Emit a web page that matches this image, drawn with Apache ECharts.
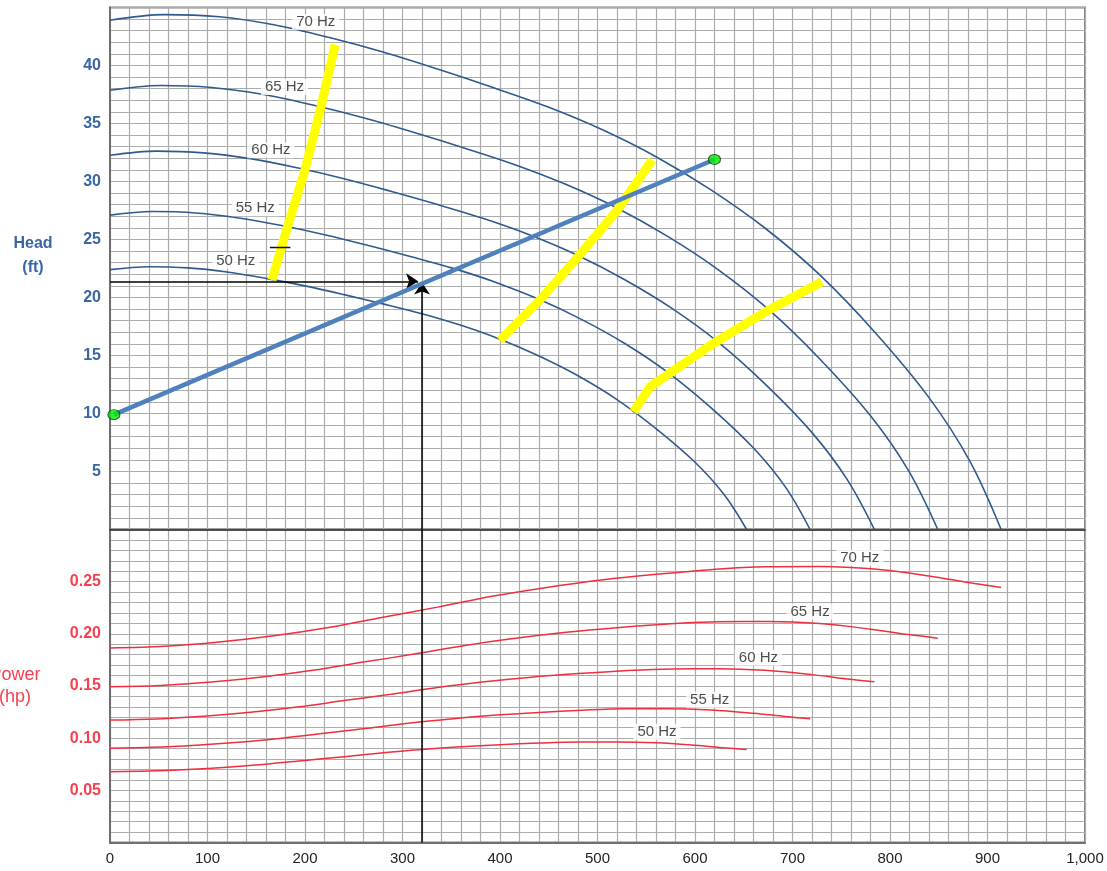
<!DOCTYPE html>
<html>
<head>
<meta charset="utf-8">
<title>Pump curves at variable speed</title>
<script src="https://cdn.jsdelivr.net/npm/echarts@6.0.0/dist/echarts.min.js"></script>
<style>
  html, body { margin: 0; padding: 0; background: #ffffff; }
  #chart { width: 1107px; height: 871px; }
</style>
</head>
<body>
<div id="chart"></div>
<script>
// ---- Flow (x) tick labels ----
const flowTicks = [0, 100, 200, 300, 400, 500, 600, 700, 800, 900, 1000];
const flowTickLabels = ['0', '100', '200', '300', '400', '500', '600', '700', '800', '900', '1,000'];

const freqLabels = ['50 Hz', '55 Hz', '60 Hz', '65 Hz', '70 Hz'];

// ---- Head curves (ft) vs flow ----
const flow50 = [0, 40, 80, 120, 160, 200, 240, 280, 320, 360, 400, 440, 480, 520, 560, 600, 630, 653];
const head50 = [22.4, 22.65, 22.55, 22.2, 21.65, 21.0, 20.25, 19.45, 18.6, 17.6, 16.4, 14.95, 13.25, 11.2, 8.7, 5.8, 3.0, 0];

const flow55 = [0, 44, 88, 132, 176, 220, 264, 308, 352, 396, 440, 484, 528, 572, 616, 660, 693, 718];
const head55 = [27.1, 27.41, 27.29, 26.86, 26.2, 25.41, 24.5, 23.53, 22.51, 21.3, 19.84, 18.09, 16.03, 13.55, 10.53, 7.02, 3.63, 0];

const flow60 = [0, 48, 96, 144, 192, 240, 288, 336, 384, 432, 480, 528, 576, 624, 672, 720, 756, 784];
const head60 = [32.26, 32.62, 32.47, 31.97, 31.18, 30.24, 29.16, 28.01, 26.78, 25.34, 23.62, 21.53, 19.08, 16.13, 12.53, 8.35, 4.32, 0];

const flow65 = [0, 52, 104, 156, 208, 260, 312, 364, 416, 468, 520, 572, 624, 676, 728, 780, 819, 849];
const head65 = [37.86, 38.28, 38.11, 37.52, 36.59, 35.49, 34.22, 32.87, 31.43, 29.74, 27.72, 25.27, 22.39, 18.93, 14.7, 9.8, 5.07, 0];

const flow70 = [0, 56, 112, 168, 224, 280, 336, 392, 448, 504, 560, 616, 672, 728, 784, 840, 882, 914];
const head70 = [43.9, 44.39, 44.2, 43.51, 42.43, 41.16, 39.69, 38.12, 36.46, 34.5, 32.14, 29.3, 25.97, 21.95, 17.05, 11.37, 5.88, 0];

// ---- Shaft power (hp) vs flow ----
const power50 = [0.0679, 0.0685, 0.0700, 0.0722, 0.0751, 0.0787, 0.0822, 0.0860, 0.0891, 0.0917, 0.0937, 0.0953, 0.0963, 0.0964, 0.0955, 0.0931, 0.0907, 0.0891];
const power55 = [0.0904, 0.0912, 0.0932, 0.0961, 0.1000, 0.1047, 0.1094, 0.1145, 0.1186, 0.1221, 0.1247, 0.1268, 0.1282, 0.1283, 0.1271, 0.1239, 0.1207, 0.1186];
const power60 = [0.1173, 0.1184, 0.1210, 0.1248, 0.1298, 0.1360, 0.1420, 0.1486, 0.1540, 0.1585, 0.1619, 0.1647, 0.1664, 0.1666, 0.1650, 0.1609, 0.1567, 0.1540];
const power65 = [0.1492, 0.1505, 0.1538, 0.1586, 0.1650, 0.1729, 0.1806, 0.1889, 0.1958, 0.2015, 0.2059, 0.2094, 0.2116, 0.2118, 0.2098, 0.2045, 0.1993, 0.1958];
const power70 = [0.1864, 0.1880, 0.1921, 0.1981, 0.2061, 0.2160, 0.2256, 0.2360, 0.2445, 0.2516, 0.2571, 0.2615, 0.2642, 0.2645, 0.2621, 0.2555, 0.2489, 0.2445];

// ---- System curve (straight line between its two end points) ----
const systemFlow = [4, 620];
const systemHead = [9.9, 31.9];

// ---- Operating point read-off ----
const opFlow = 320;
const opHead = 21.4;

// ---- Constant-efficiency traces across the speed family ----
const eff1Flow = [166, 181, 200, 216, 231];
const eff1Head = [21.5, 25.8, 31.0, 36.3, 41.8];
const eff2Flow = [400, 440, 480, 520, 556];
const eff2Head = [16.3, 19.7, 23.5, 27.5, 31.85];
const eff3Flow = [537, 554, 571, 619, 673, 730];
const eff3Head = [10.15, 12.3, 13.3, 16.05, 18.8, 21.35];

// small tick mark on the first efficiency trace
const markFlow = [164, 185];
const markHead = [24.3, 24.3];

// ---- Curve label anchors (flow, value) ----
const headLabelFlow = [129, 149, 165, 179, 211];
const headLabelHead = [23.15, 27.7, 32.7, 38.15, 43.75];
const powerLabelFlow = [561, 615, 665, 718, 769];
const powerLabelPower = [0.1061, 0.1368, 0.1771, 0.2212, 0.2727];

// ----------------------------------------------------------------
const FONT = '"Liberation Sans", Arial, sans-serif';
const HEAD_BLUE = '#2f5a8e';
const HEAD_TEXT = '#3a67a4';
const POWER_RED = '#ee2f40';
const POWER_TEXT = '#f4404f';
const gridLine = { color: '#ababab', width: 1.2 };

const zip = (xs, ys) => xs.map((x, i) => [x, ys[i]]);

const headSets = [[flow50, head50], [flow55, head55], [flow60, head60], [flow65, head65], [flow70, head70]];
const powerSets = [[flow50, power50], [flow55, power55], [flow60, power60], [flow65, power65], [flow70, power70]];

const series = [];

headSets.forEach((s, i) => {
  series.push({
    name: 'Head ' + freqLabels[i], type: 'line', xAxisIndex: 0, yAxisIndex: 0,
    data: zip(s[0], s[1]), smooth: 0.35, showSymbol: false, silent: true, z: 2,
    lineStyle: { color: HEAD_BLUE, width: 1.6 }
  });
});

powerSets.forEach((s, i) => {
  series.push({
    name: 'Power ' + freqLabels[i], type: 'line', xAxisIndex: 1, yAxisIndex: 1,
    data: zip(s[0], s[1]), smooth: 0.35, showSymbol: false, silent: true, z: 2,
    lineStyle: { color: POWER_RED, width: 1.5 }
  });
});

[[eff1Flow, eff1Head], [eff2Flow, eff2Head], [eff3Flow, eff3Head]].forEach((s, i) => {
  series.push({
    name: 'Efficiency trace ' + (i + 1), type: 'line', xAxisIndex: 0, yAxisIndex: 0,
    data: zip(s[0], s[1]), showSymbol: false, silent: true, z: 3,
    lineStyle: { color: '#ffff00', width: 9, cap: 'butt', join: 'miter' }
  });
});

series.push({
  name: 'Tick', type: 'line', xAxisIndex: 0, yAxisIndex: 0,
  data: zip(markFlow, markHead), showSymbol: false, silent: true, z: 4,
  lineStyle: { color: '#111', width: 1.5 }
});

series.push({
  name: 'System curve', type: 'line', xAxisIndex: 0, yAxisIndex: 0,
  data: zip(systemFlow, systemHead), showSymbol: false, silent: true, z: 5,
  lineStyle: { color: '#4f81bd', width: 4.5 }
});

series.push({
  name: 'System end points', type: 'scatter', xAxisIndex: 0, yAxisIndex: 0,
  data: zip(systemFlow, systemHead), symbol: 'circle', symbolSize: [12, 10], silent: true, z: 7,
  itemStyle: { color: '#00ee00', borderColor: '#123512', borderWidth: 1 }
});

const arrowLine = { type: 'solid', color: '#000', width: 1.5 };

// arrows: across from the head axis and up from the flow axis to the operating point
series.push({
  name: 'Operating point (head)', type: 'line', xAxisIndex: 0, yAxisIndex: 0,
  data: [], silent: true, z: 6,
  markLine: {
    silent: true, animation: false, symbol: ['none', 'arrow'], symbolSize: 12,
    label: { show: false }, lineStyle: arrowLine,
    itemStyle: { color: '#000' },
    emphasis: { disabled: true },
    data: [
      [{ coord: [0, opHead] }, { coord: [opFlow - 4, opHead] }],
      [{ coord: [opFlow, 0] }, { coord: [opFlow, opHead - 0.1] }]
    ]
  }
});

series.push({
  name: 'Operating point (power)', type: 'line', xAxisIndex: 1, yAxisIndex: 1,
  data: [], silent: true, z: 6,
  markLine: {
    silent: true, animation: false, symbol: ['none', 'none'],
    label: { show: false }, lineStyle: arrowLine,
    emphasis: { disabled: true },
    data: [[{ coord: [opFlow, 0] }, { coord: [opFlow, 0.30] }]]
  }
});

const curveLabel = {
  show: true, position: 'inside', formatter: '{b}', color: '#222222',
  fontSize: 15, fontFamily: FONT, backgroundColor: '#ffffff', padding: [1, 4, 0, 4]
};

series.push({
  name: 'Head labels', type: 'scatter', xAxisIndex: 0, yAxisIndex: 0, symbolSize: 0, silent: true, z: 8,
  data: headLabelFlow.map((x, i) => ({ name: freqLabels[i], value: [x, headLabelHead[i]] })),
  label: curveLabel
});

series.push({
  name: 'Power labels', type: 'scatter', xAxisIndex: 1, yAxisIndex: 1, symbolSize: 0, silent: true, z: 8,
  data: powerLabelFlow.map((x, i) => ({ name: freqLabels[i], value: [x, powerLabelPower[i]] })),
  label: curveLabel
});

const flowLabel = v => {
  const k = flowTicks.indexOf(Math.round(v));
  return k >= 0 ? flowTickLabels[k] : '';
};

const option = {
  animation: false,
  backgroundColor: '#ffffff',
  textStyle: { fontFamily: FONT },
  grid: [
    { left: 110, right: 22, top: 7.5, height: 522, show: true, borderColor: '#808080', borderWidth: 2, backgroundColor: '#ffffff' },
    { left: 110, right: 22, top: 529.5, height: 313, show: true, borderColor: '#808080', borderWidth: 2, backgroundColor: '#ffffff' }
  ],
  xAxis: [
    {
      gridIndex: 0, type: 'value', min: 0, max: 1000, interval: 100,
      axisLabel: { show: false }, axisTick: { show: false },
      axisLine: { show: true, onZero: false, lineStyle: { color: '#2a2a2a', width: 1.5 } },
      splitLine: { show: true, lineStyle: gridLine },
      minorTick: { show: false, splitNumber: 5 },
      minorSplitLine: { show: true, lineStyle: gridLine }
    },
    {
      gridIndex: 1, type: 'value', min: 0, max: 1000, interval: 100,
      axisLabel: { show: true, formatter: flowLabel, color: '#222', fontSize: 15, fontFamily: FONT, margin: 9 },
      axisTick: { show: false },
      axisLine: { show: true, onZero: false, lineStyle: { color: '#707070', width: 2 } },
      splitLine: { show: true, lineStyle: gridLine },
      minorTick: { show: false, splitNumber: 5 },
      minorSplitLine: { show: true, lineStyle: gridLine }
    }
  ],
  yAxis: [
    {
      gridIndex: 0, type: 'value', min: 0, max: 45, interval: 5,
      axisLabel: {
        show: true, color: HEAD_TEXT, fontSize: 16, fontWeight: 'bold', fontFamily: FONT, margin: 9,
        padding: [0, 0, 9, 0],
        formatter: v => (v <= 0 || v >= 45) ? '' : String(v)
      },
      axisTick: { show: false },
      axisLine: { show: true, lineStyle: { color: '#707070', width: 2 } },
      splitLine: { show: true, lineStyle: gridLine },
      minorTick: { show: false, splitNumber: 5 },
      minorSplitLine: { show: true, lineStyle: gridLine }
    },
    {
      gridIndex: 1, type: 'value', min: 0, max: 0.30, interval: 0.05,
      axisLabel: {
        show: true, color: POWER_TEXT, fontSize: 16, fontWeight: 'bold', fontFamily: FONT, margin: 9,
        padding: [0, 0, 9, 0],
        formatter: v => (v <= 0.001 || v >= 0.299) ? '' : v.toFixed(2)
      },
      axisTick: { show: false },
      axisLine: { show: true, lineStyle: { color: '#707070', width: 2 } },
      splitLine: { show: true, lineStyle: gridLine },
      minorTick: { show: false, splitNumber: 5 },
      minorSplitLine: { show: true, lineStyle: gridLine }
    }
  ],
  graphic: [
    { type: 'text', silent: true, style: { x: 33, y: 244, text: 'Head', textAlign: 'center', textVerticalAlign: 'middle', fill: HEAD_TEXT, font: 'bold 16px ' + FONT } },
    { type: 'text', silent: true, style: { x: 33, y: 268, text: '(ft)', textAlign: 'center', textVerticalAlign: 'middle', fill: HEAD_TEXT, font: 'bold 16px ' + FONT } },
    { type: 'text', silent: true, style: { x: 15, y: 675, text: 'Power', textAlign: 'center', textVerticalAlign: 'middle', fill: POWER_TEXT, font: '18px ' + FONT } },
    { type: 'text', silent: true, style: { x: 15, y: 697, text: '(hp)', textAlign: 'center', textVerticalAlign: 'middle', fill: POWER_TEXT, font: '18px ' + FONT } }
  ],
  series: series
};

const chart = echarts.init(document.getElementById('chart'), null, { renderer: 'canvas' });
chart.setOption(option);
</script>
</body>
</html>
